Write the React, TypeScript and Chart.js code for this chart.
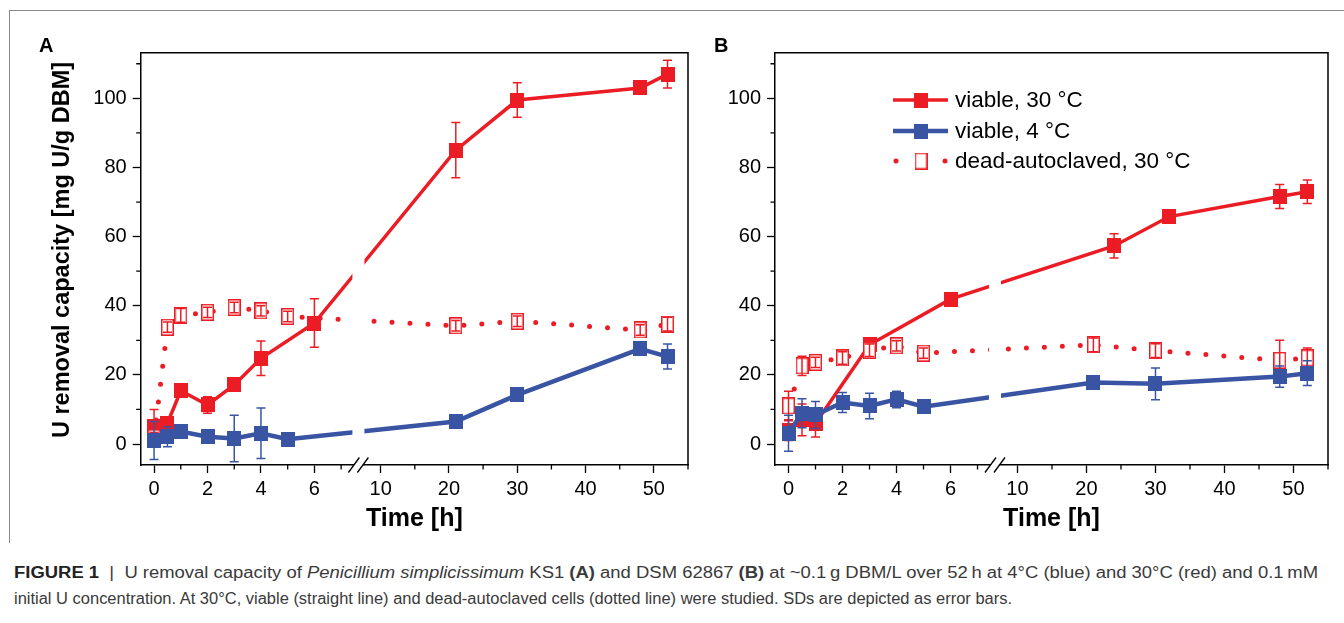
import React, { useEffect, useLayoutEffect, useRef } from "react";
import { Chart, registerables } from "chart.js";
Chart.register(...registerables);

// ---------------- data ----------------
const X_MAJOR = [0, 2, 4, 6, 10, 20, 30, 40, 50];
const X_MINOR = [1, 3, 5, 7, 15, 25, 35, 45, 55];
const Y_MAJOR = [0, 20, 40, 60, 80, 100];
const Y_MINOR = [10, 30, 50, 70, 90, 110];

// Panel A (KS1)
const A_viable30_t = [0, 0.5, 1, 2, 3, 4, 6, 21, 30, 48, 52];
const A_viable30_y = [5, 6, 15.4, 11.3, 17.1, 24.8, 35, 85, 99.5, 103, 107];
const A_viable30_e = [5, 1, 1.5, 2.4, 1.5, 5, 7, 8, 5, 1, 4];
const A_viable4_t = [0, 0.5, 1, 2, 3, 4, 5, 21, 30, 48, 52];
const A_viable4_y = [1, 2.1, 3.6, 2.1, 1.6, 3.1, 1.4, 6.5, 14.2, 27.5, 25.3];
const A_viable4_e = [5.5, 2.9, 1.5, 1, 6.7, 7.3, 1, 1, 1.5, 1.5, 3.6];
const A_dead_t = [0, 0.5, 1, 2, 3, 4, 5, 21, 30, 48, 52];
const A_dead_y = [1.8, 33.8, 37.2, 38.1, 39.5, 38.5, 36.9, 34.2, 35.5, 33, 34.7];
const A_dead_e = [1.5, 1.5, 2, 1.5, 1.5, 1.5, 1.5, 1.5, 1.5, 1.5, 2];

// Panel B (DSM 62867)
const B_viable30_t = [0, 0.5, 1, 3, 6, 24, 32, 48, 52];
const B_viable30_y = [4, 7, 6, 28.7, 41.9, 57.3, 65.8, 71.6, 73];
const B_viable30_e = [3, 4.6, 4, 1, 1, 3.5, 1, 3.5, 3.4];
const B_viable4_t = [0, 0.5, 1, 2, 3, 4, 5, 21, 30, 48, 52];
const B_viable4_y = [3.1, 8.9, 8.4, 12, 11, 12.9, 10.8, 17.8, 17.4, 19.5, 20.5];
const B_viable4_e = [5.2, 4.2, 3.9, 2.9, 3.7, 2.4, 1.3, 1.5, 4.6, 3.1, 3.6];
const B_dead_t = [0, 0.5, 1, 2, 3, 4, 5, 21, 30, 48, 52];
const B_dead_y = [11, 22.6, 23.6, 24.9, 27.1, 28.4, 26.3, 28.7, 27, 24.2, 24.9];
const B_dead_e = [4.3, 2.8, 1.5, 1.8, 1.8, 1.5, 1.5, 2, 2, 5.8, 2.9];

const LEGEND_LABELS = ["viable, 30 °C", "viable, 4 °C", "dead-autoclaved, 30 °C"];

// ---------------- styling / axis break ----------------
const RED = "#ec1c24";
const BLUE = "#3a54a4";
const FONT = '"Liberation Sans", Arial, Helvetica, sans-serif';

const X_MIN = -0.5;
const X_MAX = 55;
const SEG_L_END = 7.35;
const SEG_R_START = 7.9;
const GAP_UNITS = 0.593;
const RIGHT_SCALE = 6.9 / 27;
function vx(t: number) {
  return t <= SEG_L_END ? t : SEG_L_END + GAP_UNITS + (t - SEG_R_START) * RIGHT_SCALE;
}
const GAP_CENTER = SEG_L_END + GAP_UNITS / 2;

function makeMarker(w: number, h: number, fill: string | null, stroke: string | null, lw: number) {
  const c = document.createElement("canvas");
  c.width = w;
  c.height = h;
  const ctx = c.getContext("2d")!;
  if (fill) {
    ctx.fillStyle = fill;
    ctx.fillRect(0, 0, w, h);
  }
  if (stroke) {
    ctx.strokeStyle = stroke;
    ctx.lineWidth = lw;
    ctx.strokeRect(lw / 2, lw / 2, w - lw, h - lw);
  }
  return c;
}

function toXY(ts: number[], ys: number[]) {
  return ts.map((t, i) => ({ x: vx(t), y: ys[i] }));
}

type Series = {
  v30t: number[]; v30y: number[]; v30e: number[];
  v4t: number[]; v4y: number[]; v4e: number[];
  dt: number[]; dy: number[]; de: number[];
};

const errorBarPlugin = {
  id: "errbars",
  afterDatasetDraw(chart: any, args: any) {
    const ds = chart.data.datasets[args.index];
    const errs: number[] = ds.errors;
    if (!errs) return;
    const ys = chart.scales.y;
    const ctx = chart.ctx;
    const a = chart.chartArea;
    ctx.save();
    ctx.beginPath();
    ctx.rect(a.left, a.top, a.right - a.left, a.bottom - a.top);
    ctx.clip();
    ctx.strokeStyle = ds.errColor;
    ctx.lineWidth = 1.5;
    args.meta.data.forEach((pt: any, i: number) => {
      const v = ds.data[i].y;
      const e = errs[i];
      const y1 = ys.getPixelForValue(v + e);
      const y2 = ys.getPixelForValue(v - e);
      ctx.beginPath();
      ctx.moveTo(pt.x, y1);
      ctx.lineTo(pt.x, y2);
      ctx.moveTo(pt.x - 4.5, y1);
      ctx.lineTo(pt.x + 4.5, y1);
      ctx.moveTo(pt.x - 4.5, y2);
      ctx.lineTo(pt.x + 4.5, y2);
      ctx.stroke();
    });
    ctx.restore();
  },
};

const gapPlugin = {
  id: "gap",
  afterDatasetsDraw(chart: any) {
    const a = chart.chartArea;
    const c = chart.scales.x.getPixelForValue(GAP_CENTER);
    const ctx = chart.ctx;
    ctx.save();
    ctx.fillStyle = "#ffffff";
    ctx.fillRect(c - 6, a.top + 1, 12, a.bottom - a.top - 2);
    ctx.restore();
  },
};

function ChartPanel(props: {
  left: number; width: number; yAxisWidth: number; padRight: number;
  letter: string; letterX: number; series: Series; showYTitle: boolean; showLegend: boolean;
}) {
  const ref = useRef<HTMLCanvasElement>(null);
  useEffect(() => {
    const canvas = ref.current!;
    const s = props.series;
    const redSq = makeMarker(14, 15, RED, null, 0);
    const blueSq = makeMarker(14, 15, BLUE, null, 0);
    const hollow = makeMarker(13, 17, "#ffffff", RED, 1.5);

    const datasets: any[] = [
      {
        label: LEGEND_LABELS[1], data: toXY(s.v4t, s.v4y), errors: s.v4e, errColor: BLUE,
        borderColor: BLUE, backgroundColor: BLUE, borderWidth: 4.5, pointStyle: blueSq, pointRadius: 7,
      },
      {
        label: LEGEND_LABELS[2], data: toXY(s.dt, s.dy), errors: s.de, errColor: RED,
        borderColor: RED, backgroundColor: "#fff", borderWidth: 5, borderDash: [0, 18], borderCapStyle: "round",
        pointStyle: hollow, pointRadius: 7,
      },
      {
        label: LEGEND_LABELS[0], data: toXY(s.v30t, s.v30y), errors: s.v30e, errColor: RED,
        borderColor: RED, backgroundColor: RED, borderWidth: 3.5, pointStyle: redSq, pointRadius: 7,
      },
    ];

    const decorPlugin = {
      id: "decor",
      afterDraw(chart: any) {
        const ctx = chart.ctx;
        const a = chart.chartArea;
        const xs = chart.scales.x;
        const ys = chart.scales.y;
        ctx.save();
        ctx.strokeStyle = "#000";
        ctx.lineWidth = 1.5;
        // top and right frame
        ctx.beginPath();
        ctx.moveTo(a.left, a.top);
        ctx.lineTo(a.right, a.top);
        ctx.lineTo(a.right, a.bottom);
        ctx.stroke();
        // minor ticks
        ctx.lineWidth = 1.3;
        ctx.beginPath();
        X_MINOR.forEach((t) => {
          const px = xs.getPixelForValue(vx(t));
          ctx.moveTo(px, a.bottom);
          ctx.lineTo(px, a.bottom + 4.5);
        });
        Y_MINOR.forEach((v) => {
          const py = ys.getPixelForValue(v);
          ctx.moveTo(a.left - 4.5, py);
          ctx.lineTo(a.left, py);
        });
        ctx.stroke();
        // axis break
        const gc = xs.getPixelForValue(GAP_CENTER);
        ctx.fillStyle = "#fff";
        ctx.fillRect(gc - 4.5, a.bottom - 2, 9, 4);
        ctx.lineWidth = 1.3;
        ctx.beginPath();
        [gc - 4.5, gc + 4.5].forEach((c) => {
          ctx.moveTo(c - 5.5, a.bottom + 7.5);
          ctx.lineTo(c + 5.5, a.bottom - 7.5);
        });
        ctx.stroke();
        // panel letter
        ctx.fillStyle = "#000";
        ctx.font = `bold 20px ${FONT}`;
        ctx.textAlign = "left";
        ctx.textBaseline = "alphabetic";
        ctx.fillText(props.letter, props.letterX, 52);
        // y title
        if (props.showYTitle) {
          ctx.save();
          ctx.translate(63, 250);
          ctx.rotate(-Math.PI / 2);
          ctx.textAlign = "center";
          ctx.textBaseline = "middle";
          ctx.font = `bold 23.5px ${FONT}`;
          ctx.fillText("U removal capacity [mg U/g DBM]", 0, 0);
          ctx.restore();
        }
        // legend
        if (props.showLegend) {
          const ox = props.left;
          const rows = [
            { y: 100, color: RED, marker: redSq, dotted: false, label: LEGEND_LABELS[0] },
            { y: 131, color: BLUE, marker: blueSq, dotted: false, label: LEGEND_LABELS[1] },
            { y: 161, color: RED, marker: hollow, dotted: true, label: LEGEND_LABELS[2] },
          ];
          rows.forEach((r) => {
            const x0 = 893 - ox, x1 = 948 - ox, xm = 921 - ox;
            ctx.strokeStyle = r.color;
            ctx.fillStyle = r.color;
            if (r.dotted) {
              [x0 + 3, x1 - 3].forEach((dx) => {
                ctx.beginPath();
                ctx.arc(dx, r.y, 2.5, 0, Math.PI * 2);
                ctx.fill();
              });
            } else {
              ctx.lineWidth = r.color === BLUE ? 4.5 : 3.5;
              ctx.beginPath();
              ctx.moveTo(x0, r.y);
              ctx.lineTo(x1, r.y);
              ctx.stroke();
            }
            ctx.drawImage(r.marker, xm - r.marker.width / 2, r.y - r.marker.height / 2);
            ctx.fillStyle = "#000";
            ctx.font = `22.5px ${FONT}`;
            ctx.textAlign = "left";
            ctx.textBaseline = "middle";
            ctx.fillText(r.label, 955 - ox, r.y + 1);
          });
        }
        ctx.restore();
      },
    };

    const tickFont = { family: FONT, size: 20 };
    const chart = new Chart(canvas, {
      type: "line",
      data: { datasets },
      options: {
        responsive: false,
        animation: false,
        devicePixelRatio: 1,
        events: [],
        layout: { padding: { left: 0, right: props.padRight, top: 52.7, bottom: 0 } },
        plugins: { legend: { display: false }, tooltip: { enabled: false } },
        scales: {
          x: {
            type: "linear",
            min: vx(X_MIN),
            max: vx(X_MAX),
            afterBuildTicks: (sc: any) => {
              sc.ticks = X_MAJOR.map((t) => ({ value: vx(t) }));
            },
            afterFit: (sc: any) => {
              sc.height = 75;
            },
            ticks: {
              autoSkip: false, maxRotation: 0, padding: 4, color: "#000", font: tickFont,
              callback: (_v: any, i: number) => String(X_MAJOR[i]),
            },
            grid: { drawOnChartArea: false, drawTicks: true, tickLength: 8, tickWidth: 1.3, tickColor: "#000" },
            border: { display: true, color: "#000", width: 1.5 },
            title: {
              display: true, text: "Time [h]", color: "#000",
              font: { family: FONT, size: 25, weight: "bold" }, padding: { top: 0, bottom: 6 },
            },
          },
          y: {
            type: "linear",
            min: -6.07,
            max: 113.2,
            afterBuildTicks: (sc: any) => {
              sc.ticks = Y_MAJOR.map((v) => ({ value: v }));
            },
            afterFit: (sc: any) => {
              sc.width = props.yAxisWidth;
            },
            ticks: {
              autoSkip: false, padding: 6, color: "#000", font: tickFont,
              callback: (v: any) => String(v),
            },
            grid: { drawOnChartArea: false, drawTicks: true, tickLength: 8, tickWidth: 1.3, tickColor: "#000" },
            border: { display: true, color: "#000", width: 1.5 },
          },
        },
      } as any,
      plugins: [errorBarPlugin, gapPlugin, decorPlugin],
    });
    return () => chart.destroy();
  }, []);
  return (
    <canvas
      ref={ref}
      width={props.width}
      height={540}
      style={{ position: "absolute", left: props.left, top: 0, width: props.width, height: 540 }}
    />
  );
}

export default function App() {
  const l1 = useRef<HTMLDivElement>(null);
  const l2 = useRef<HTMLDivElement>(null);
  useLayoutEffect(() => {
    const fit = () => {
      ([[l1, 1304], [l2, 998]] as [React.RefObject<HTMLDivElement>, number][]).forEach(([r, w]) => {
        const el = r.current;
        if (!el) return;
        el.style.transform = "none";
        const cw = el.getBoundingClientRect().width;
        if (cw > 0) el.style.transform = `scaleX(${w / cw})`;
      });
    };
    fit();
    if ((document as any).fonts && (document as any).fonts.ready) (document as any).fonts.ready.then(fit);
  }, []);

  const capStyle: React.CSSProperties = {
    position: "absolute",
    left: 14,
    whiteSpace: "nowrap",
    display: "inline-block",
    transformOrigin: "0 0",
    fontFamily: '"Liberation Sans Narrow", "Arial Narrow", "Liberation Sans", Arial, sans-serif',
    fontSize: 16,
    lineHeight: "18px",
    color: "#3a3a3a",
  };

  return (
    <div style={{ position: "absolute", left: 0, top: 0, width: 1344, height: 623, background: "#fff", overflow: "hidden" }}>
      <div style={{ position: "absolute", left: 9, top: 10, width: 1335, height: 0, borderTop: "1.5px solid #8a8a8a" }} />
      <div style={{ position: "absolute", left: 9, top: 10, width: 0, height: 533, borderLeft: "1.5px solid #8a8a8a" }} />
      <ChartPanel
        left={0} width={700} yAxisWidth={140.7} padRight={6.7}
        letter="A" letterX={39}
        series={{
          v30t: A_viable30_t, v30y: A_viable30_y, v30e: A_viable30_e,
          v4t: A_viable4_t, v4y: A_viable4_y, v4e: A_viable4_e,
          dt: A_dead_t, dy: A_dead_y, de: A_dead_e,
        }}
        showYTitle={true} showLegend={false}
      />
      <ChartPanel
        left={700} width={644} yAxisWidth={75} padRight={16}
        letter="B" letterX={14}
        series={{
          v30t: B_viable30_t, v30y: B_viable30_y, v30e: B_viable30_e,
          v4t: B_viable4_t, v4y: B_viable4_y, v4e: B_viable4_e,
          dt: B_dead_t, dy: B_dead_y, de: B_dead_e,
        }}
        showYTitle={false} showLegend={true}
      />
      <div ref={l1} style={{ ...capStyle, top: 564 }}>
        <b style={{ color: "#222" }}>FIGURE 1</b> &nbsp;|&nbsp; U removal capacity of <i>Penicillium simplicissimum</i> KS1{" "}
        <b>(A)</b> and DSM 62867 <b>(B)</b> at ~0.1{"\u2009"}g DBM/L over 52{"\u2009"}h at 4°C (blue) and 30°C (red) and 0.1{"\u2009"}mM
      </div>
      <div ref={l2} style={{ ...capStyle, top: 590 }}>
        initial U concentration. At 30°C, viable (straight line) and dead-autoclaved cells (dotted line) were studied. SDs are depicted as error bars.
      </div>
    </div>
  );
}
